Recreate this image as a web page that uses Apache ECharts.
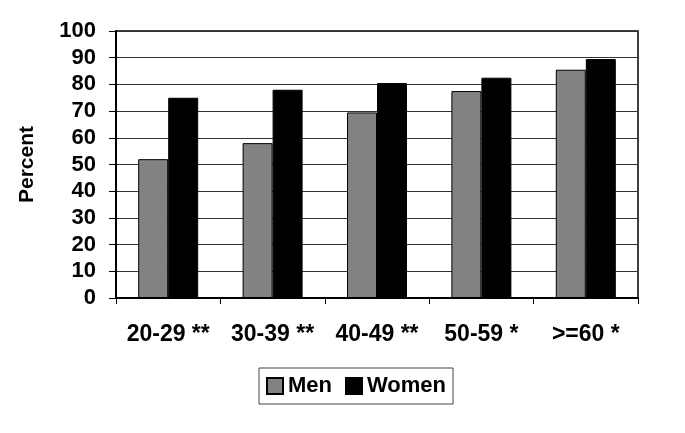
<!DOCTYPE html>
<html>
<head>
<meta charset="utf-8">
<script src="https://cdn.jsdelivr.net/npm/echarts@6/dist/echarts.min.js"></script>
<style>
  html, body { margin: 0; padding: 0; background: #fff; }
  #chart { width: 685px; height: 433px; }
</style>
</head>
<body>
<div id="chart"></div>
<script>
// 数据
const categories = ['20-29 **', '30-39 **', '40-49 **', '50-59 *', '>=60 *']
const men = [52, 58, 69.5, 77.5, 85.5]
const women = [75, 78, 80.5, 82.5, 89.5]
const yTicks = { min: 0, max: 100, interval: 10 }

const font = 'Liberation Sans, Arial, sans-serif'

let myChart = echarts.init(document.getElementById('chart'))
let option = {
  animation: false,
  grid: {
    left: 116,
    right: 47,
    top: 31,
    bottom: 135,
    show: true,
    borderColor: '#000',
    borderWidth: 1.5
  },
  legend: {
    data: ['Men', 'Women'],
    icon: 'rect',
    left: 259,
    top: 368,
    borderColor: '#444',
    borderWidth: 1,
    padding: [7, 7, 7, 7],
    itemWidth: 16,
    itemHeight: 16,
    itemGap: 13,
    textStyle: { fontFamily: font, fontWeight: 'bold', fontSize: 22, color: '#000' }
  },
  xAxis: {
    type: 'category',
    data: categories,
    axisLine: { lineStyle: { color: '#000', width: 2 } },
    axisTick: { show: true, length: 6, lineStyle: { color: '#000' } },
    axisLabel: { interval: 0, fontFamily: font, fontWeight: 'bold', fontSize: 23, color: '#000', margin: 25 }
  },
  yAxis: {
    type: 'value',
    min: yTicks.min,
    max: yTicks.max,
    interval: yTicks.interval,
    name: 'Percent',
    nameLocation: 'middle',
    nameGap: 78,
    nameRotate: 90,
    nameTextStyle: { fontFamily: font, fontSize: 21, fontWeight: 'bold', color: '#000' },
    axisLine: { show: true, lineStyle: { color: '#000', width: 2 } },
    axisTick: { show: true, length: 7, lineStyle: { color: '#000' } },
    axisLabel: { fontFamily: font, fontWeight: 'bold', fontSize: 22, color: '#000', margin: 20 },
    splitLine: { lineStyle: { color: '#333', width: 1 } }
  },
  series: [
    {
      name: 'Men',
      type: 'bar',
      data: men,
      barWidth: 30,
      barGap: '0%',
      itemStyle: { color: '#828282', borderColor: '#000', borderWidth: 1 }
    },
    {
      name: 'Women',
      type: 'bar',
      data: women,
      barWidth: 30,
      itemStyle: { color: '#000', borderColor: '#000', borderWidth: 1 }
    }
  ]
}
myChart.setOption(option)
</script>
</body>
</html>
